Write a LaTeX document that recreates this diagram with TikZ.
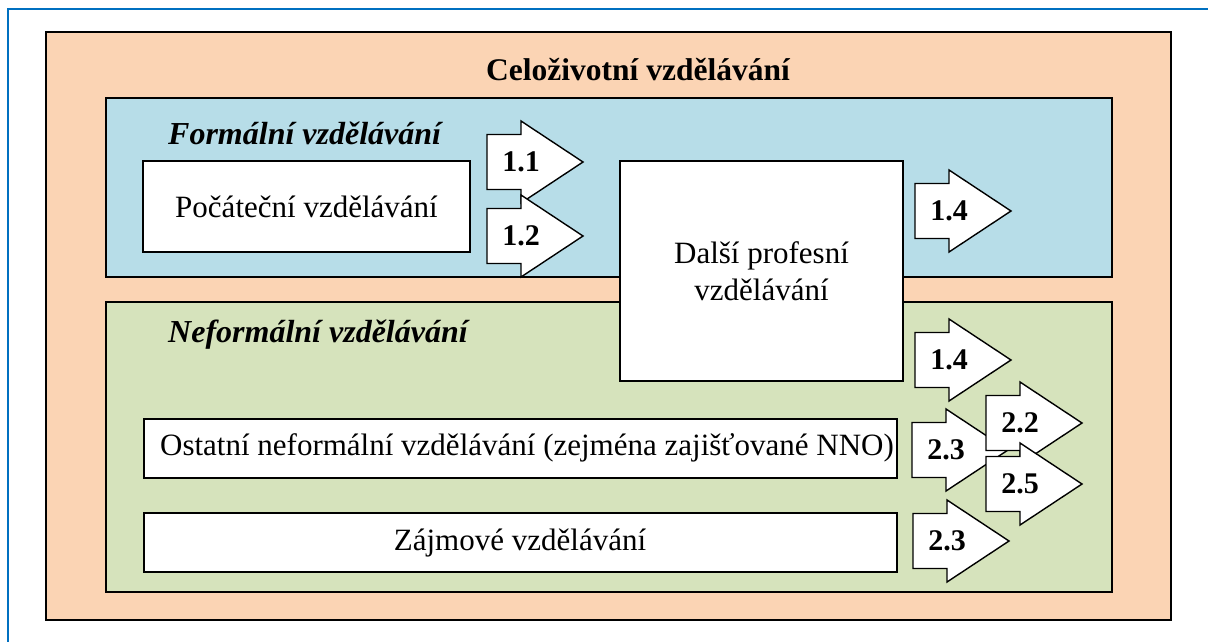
\documentclass[tikz,border=0pt]{standalone}
\usepackage{fontspec}
\setmainfont{Liberation Serif}
\definecolor{frameblue}{RGB}{0,112,192}
\definecolor{lorange}{RGB}{251,212,180}
\definecolor{lblue}{RGB}{183,221,232}
\definecolor{lgreen}{RGB}{214,227,188}
\tikzset{
  panel/.style={draw=black, line width=1.6pt},
  whitebox/.style={draw=black, line width=1.6pt, fill=white},
  arr/.style={draw=black, line width=1.4pt, fill=white, line join=miter},
  arrlabel/.style={font=\fontsize{30}{32}\selectfont\bfseries, inner sep=0pt},
  boxtext/.style={font=\fontsize{31}{37}\selectfont, inner sep=0pt, align=center},
  heading/.style={font=\fontsize{32}{34}\selectfont\bfseries\itshape, inner sep=0pt, anchor=west},
}
% #1 name, #2 shaft left x, #3 centre y, #4 label
\newcommand\bigarrowshape[4]{%
  \draw[arr] (#2,#3-27.5) -- ++(34,0) -- ++(0,-13.5) -- (#2+96,#3) -- (#2+34,#3+41) -- ++(0,-13.5) -- (#2,#3+27.5) -- cycle;
  \node[arrlabel] (#1) at (#2+34,#3) {#4};
}
\begin{document}
\begin{tikzpicture}[x=1pt,y=-1pt]
\useasboundingbox (0,0) rectangle (1208,641);
\clip (0,0) rectangle (1208,641);
\draw[frameblue, line width=2.5pt] (8,9) rectangle (1230,680);
\draw[panel, fill=lorange] (46,32) rectangle (1171,620);
\node[font=\fontsize{31.5}{34}\selectfont\bfseries, inner sep=0pt] (title) at (638,70) {Celoživotní vzdělávání};
\draw[panel, fill=lblue] (106,98) rectangle (1112,277);
\draw[panel, fill=lgreen] (106,302) rectangle (1112,592);
\node[heading] (formal) at (168,133) {Formální vzdělávání};
\node[heading] (neformal) at (168,335) {Neformální vzdělávání};
\draw[whitebox] (143,161) rectangle (470,252);
\node[boxtext] (pocatecni) at (306.5,207) {Počáteční vzdělávání};
\draw[whitebox] (620,161) rectangle (903,381);
\node[boxtext] (dalsi) at (761.5,271) {Další profesní\\vzdělávání};
\draw[whitebox] (144,419) rectangle (897,478);
\node[boxtext] (ostatni) at (527,448) {Ostatní neformální vzdělávání (zejména zajišťované NNO)};
\draw[whitebox] (144,513) rectangle (897,572);
\node[boxtext] (zajmove) at (520,543) {Zájmové vzdělávání};
\bigarrowshape{a11}{487}{162}{1.1}
\bigarrowshape{a12}{487}{236}{1.2}
\bigarrowshape{a14a}{915}{211}{1.4}
\bigarrowshape{a14b}{915}{360}{1.4}
\bigarrowshape{a23a}{912}{450}{2.3}
\bigarrowshape{a22}{986}{423}{2.2}
\bigarrowshape{a25}{986}{484}{2.5}
\bigarrowshape{a23b}{913}{541}{2.3}
\end{tikzpicture}
\end{document}
